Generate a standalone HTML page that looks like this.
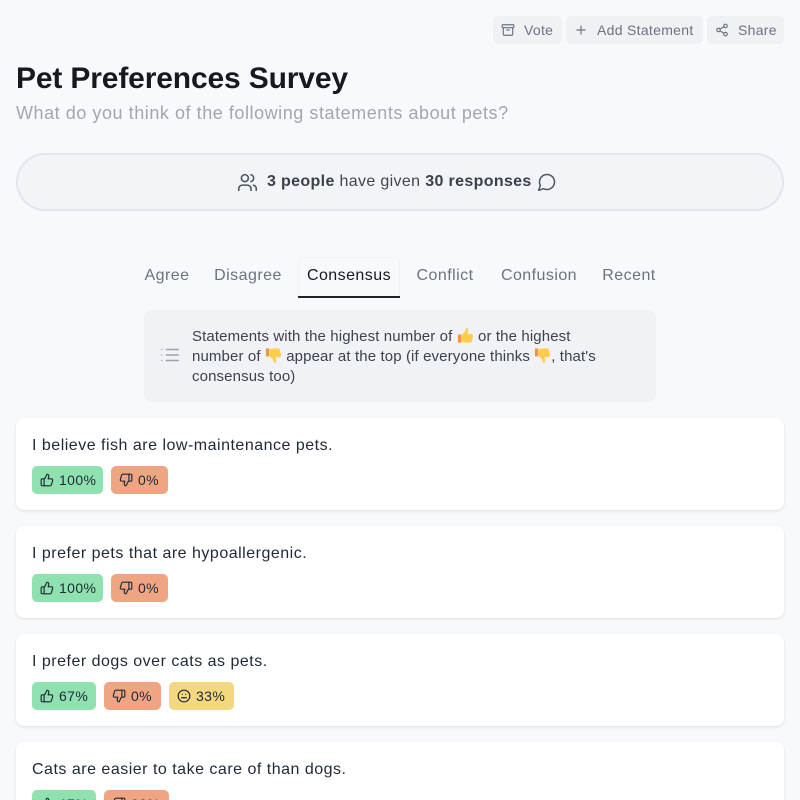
<!DOCTYPE html>
<html>
<head>
<meta charset="utf-8">
<style>
  html{margin:0;padding:0;width:800px;height:800px;overflow:hidden;background:#f8f9fc;}
  body{margin:0;padding:0;width:800px;height:800px;overflow:hidden;background:#f8f9fc;font-family:"Liberation Sans",Arial,sans-serif;position:relative;color:#1f2937;}
  .abs{position:absolute;}
  .btn{position:absolute;top:16px;height:28px;line-height:28px;background:#f0f1f4;border-radius:6px;display:flex;align-items:center;padding:0 8px;box-sizing:border-box;font-size:14px;color:#6b7280;letter-spacing:0.3px;white-space:nowrap;}
  .btn svg{width:14px;height:14px;margin-right:9px;flex:none;}
  .title{left:16px;top:61px;font-size:30px;line-height:36px;font-weight:bold;color:#16191d;letter-spacing:-0.15px;white-space:nowrap;}
  .sub{left:16px;top:101px;font-size:18px;line-height:24px;color:#a3a6ad;letter-spacing:0.55px;white-space:nowrap;}
  .pill{left:16px;top:153px;width:768px;height:58px;box-sizing:border-box;border:2px solid #e4e5ea;border-radius:29px;background:#f3f4f8;}
  .pilltxt{left:237px;top:172px;height:20px;display:flex;align-items:center;font-size:16px;line-height:20px;color:#3f4650;white-space:nowrap;letter-spacing:0.35px;}
  .pilltxt b{color:#3a414b;}
  .tab{position:absolute;top:264px;font-size:16px;line-height:24px;color:#6b7280;letter-spacing:0.45px;text-align:center;white-space:nowrap;width:120px;}
  .info{left:144px;top:310px;width:512px;height:92px;background:#f1f2f6;border-radius:9px;}
  .infotxt{left:192px;top:327px;font-size:15px;line-height:20px;color:#3b424c;letter-spacing:0.12px;white-space:nowrap;}
  .emo{display:inline-block;width:17px;height:17px;vertical-align:-3px;}
  .card{position:absolute;left:16px;width:768px;height:92px;background:#fff;border-radius:8px;box-shadow:0 1px 3px rgba(0,0,0,0.08),0 1px 2px rgba(0,0,0,0.04);}
  .stmt{position:absolute;left:16px;top:16px;font-size:16px;line-height:24px;color:#1f2937;letter-spacing:0.5px;white-space:nowrap;}
  .badges{position:absolute;left:16px;top:48px;display:flex;}
  .bd{height:28px;line-height:28px;border-radius:5px;display:flex;align-items:center;box-sizing:border-box;padding:0 0 0 8px;margin-right:8px;font-size:14px;color:#1f2937;letter-spacing:0.4px;white-space:nowrap;}
  .bd svg{width:14px;height:14px;margin-right:5px;flex:none;}
  .g{background:#8fe1b0;}
  .o{background:#f0a582;}
  .y{background:#f4d880;}
</style>
</head>
<body>

<!-- top buttons -->
<div class="btn" style="left:493px;width:69px;">
  <svg viewBox="0 0 24 24" fill="none" stroke="#6b7280" stroke-width="2" stroke-linecap="round" stroke-linejoin="round"><rect x="2" y="3" width="20" height="5" rx="1"/><path d="M4 8v11a2 2 0 0 0 2 2h12a2 2 0 0 0 2-2V8"/><path d="M10 12h4"/></svg>Vote
</div>
<div class="btn" style="left:566px;width:137px;">
  <svg viewBox="0 0 24 24" fill="none" stroke="#6b7280" stroke-width="2" stroke-linecap="round" stroke-linejoin="round"><path d="M5 12h14"/><path d="M12 5v14"/></svg>Add Statement
</div>
<div class="btn" style="left:707px;width:77px;">
  <svg viewBox="0 0 24 24" fill="none" stroke="#6b7280" stroke-width="2" stroke-linecap="round" stroke-linejoin="round"><circle cx="18" cy="5" r="3"/><circle cx="6" cy="12" r="3"/><circle cx="18" cy="19" r="3"/><line x1="8.59" y1="13.51" x2="15.42" y2="17.49"/><line x1="15.41" y1="6.51" x2="8.59" y2="10.49"/></svg>Share
</div>

<!-- title -->
<div class="abs title">Pet Preferences Survey</div>
<div class="abs sub">What do you think of the following statements about pets?</div>

<!-- stats pill -->
<div class="abs pill"></div>
<div class="abs pilltxt">
  <svg width="21" height="21" viewBox="0 0 24 24" fill="none" stroke="#4b5563" stroke-width="1.8" stroke-linecap="round" stroke-linejoin="round" style="margin-right:9px;"><path d="M16 21v-2a4 4 0 0 0-4-4H6a4 4 0 0 0-4 4v2"/><circle cx="9" cy="7" r="4"/><path d="M22 21v-2a4 4 0 0 0-3-3.87"/><path d="M16 3.13a4 4 0 0 1 0 7.75"/></svg>
  <span><b>3 people</b> have given <b>30 responses</b></span>
  <svg width="20" height="20" viewBox="0 0 24 24" fill="none" stroke="#4b5563" stroke-width="1.8" stroke-linecap="round" stroke-linejoin="round" style="margin-left:5px;"><path d="M7.9 20A9 9 0 1 0 4 16.1L2 22Z"/></svg>
</div>

<!-- tabs -->
<div class="abs" style="left:298px;top:257px;width:100px;height:39px;border:1px solid #f1f2f5;border-bottom:none;border-radius:5px 5px 0 0;"></div>
<div class="tab" style="left:107px;">Agree</div>
<div class="tab" style="left:188px;">Disagree</div>
<div class="tab" style="left:289px;color:#15181c;">Consensus</div>
<div class="tab" style="left:385px;">Conflict</div>
<div class="tab" style="left:479px;">Confusion</div>
<div class="tab" style="left:569px;">Recent</div>
<div class="abs" style="left:298px;top:296px;width:102px;height:2px;background:#1f2328;"></div>

<!-- info box -->
<div class="abs info"></div>
<svg class="abs" style="left:159px;top:344px;" width="22" height="22" viewBox="0 0 24 24" fill="none" stroke="#9ca3af" stroke-width="1.6" stroke-linecap="round" stroke-linejoin="round"><line x1="8" y1="6" x2="21" y2="6"/><line x1="8" y1="12" x2="21" y2="12"/><line x1="8" y1="18" x2="21" y2="18"/><line x1="3" y1="6" x2="3.01" y2="6"/><line x1="3" y1="12" x2="3.01" y2="12"/><line x1="3" y1="18" x2="3.01" y2="18"/></svg>
<div class="abs infotxt">
Statements with the highest number of <svg class="emo" viewBox="0 0 36 36"><path fill="#FFCC4D" d="M34 18c0-2-1.5-3.5-3.5-3.5H22c1-3 2-6 1.5-9C23 3 21 1.5 19.5 2.5 18 3.5 18.5 6 17 9c-2 4-5 6-7 7v15c3 1 6 2 11 2h7c2 0 3.5-1.5 3.5-3 0-1-.5-1.5-1-2 1.5-.3 2.5-1.5 2.5-3 0-1-.5-1.7-1-2.2 1.2-.5 2-1.5 2-2.8 0-1-.5-1.8-1.2-2.3C33.3 20.5 34 19.4 34 18z"/><path fill="#EF9645" d="M2 16h7v17H2z"/></svg> or the highest<br>
number of <svg class="emo" viewBox="0 0 36 36"><g transform="translate(0,36) scale(1,-1)"><path fill="#FFCC4D" d="M34 18c0-2-1.5-3.5-3.5-3.5H22c1-3 2-6 1.5-9C23 3 21 1.5 19.5 2.5 18 3.5 18.5 6 17 9c-2 4-5 6-7 7v15c3 1 6 2 11 2h7c2 0 3.5-1.5 3.5-3 0-1-.5-1.5-1-2 1.5-.3 2.5-1.5 2.5-3 0-1-.5-1.7-1-2.2 1.2-.5 2-1.5 2-2.8 0-1-.5-1.8-1.2-2.3C33.3 20.5 34 19.4 34 18z"/><path fill="#EF9645" d="M2 16h7v17H2z"/></g></svg> appear at the top (if everyone thinks <svg class="emo" viewBox="0 0 36 36"><g transform="translate(0,36) scale(1,-1)"><path fill="#FFCC4D" d="M34 18c0-2-1.5-3.5-3.5-3.5H22c1-3 2-6 1.5-9C23 3 21 1.5 19.5 2.5 18 3.5 18.5 6 17 9c-2 4-5 6-7 7v15c3 1 6 2 11 2h7c2 0 3.5-1.5 3.5-3 0-1-.5-1.5-1-2 1.5-.3 2.5-1.5 2.5-3 0-1-.5-1.7-1-2.2 1.2-.5 2-1.5 2-2.8 0-1-.5-1.8-1.2-2.3C33.3 20.5 34 19.4 34 18z"/><path fill="#EF9645" d="M2 16h7v17H2z"/></g></svg>, that's<br>
consensus too)
</div>

<!-- cards -->
<div class="card" style="top:418px;">
  <div class="stmt">I believe fish are low-maintenance pets.</div>
  <div class="badges">
    <div class="bd g" style="width:71px;"><svg viewBox="0 0 24 24" fill="none" stroke="#1f2937" stroke-width="2" stroke-linecap="round" stroke-linejoin="round"><path d="M7 10v12"/><path d="M15 5.88 14 10h5.83a2 2 0 0 1 1.92 2.56l-2.33 8A2 2 0 0 1 17.5 22H4a2 2 0 0 1-2-2v-8a2 2 0 0 1 2-2h2.76a2 2 0 0 0 1.79-1.11L12 2a3.13 3.13 0 0 1 3 3.88Z"/></svg>100%</div>
    <div class="bd o" style="width:57px;"><svg viewBox="0 0 24 24" fill="none" stroke="#1f2937" stroke-width="2" stroke-linecap="round" stroke-linejoin="round"><path d="M17 14V2"/><path d="M9 18.12 10 14H4.170a2 2 0 0 1-1.92-2.56l2.33-8A2 2 0 0 1 6.5 2H20a2 2 0 0 1 2 2v8a2 2 0 0 1-2 2h-2.76a2 2 0 0 0-1.79 1.11L12 22a3.13 3.13 0 0 1-3-3.88Z"/></svg>0%</div>
  </div>
</div>

<div class="card" style="top:526px;">
  <div class="stmt">I prefer pets that are hypoallergenic.</div>
  <div class="badges">
    <div class="bd g" style="width:71px;"><svg viewBox="0 0 24 24" fill="none" stroke="#1f2937" stroke-width="2" stroke-linecap="round" stroke-linejoin="round"><path d="M7 10v12"/><path d="M15 5.88 14 10h5.83a2 2 0 0 1 1.92 2.56l-2.33 8A2 2 0 0 1 17.5 22H4a2 2 0 0 1-2-2v-8a2 2 0 0 1 2-2h2.76a2 2 0 0 0 1.79-1.11L12 2a3.13 3.13 0 0 1 3 3.88Z"/></svg>100%</div>
    <div class="bd o" style="width:57px;"><svg viewBox="0 0 24 24" fill="none" stroke="#1f2937" stroke-width="2" stroke-linecap="round" stroke-linejoin="round"><path d="M17 14V2"/><path d="M9 18.12 10 14H4.17a2 2 0 0 1-1.92-2.56l2.33-8A2 2 0 0 1 6.5 2H20a2 2 0 0 1 2 2v8a2 2 0 0 1-2 2h-2.76a2 2 0 0 0-1.79 1.11L12 22a3.13 3.13 0 0 1-3-3.88Z"/></svg>0%</div>
  </div>
</div>

<div class="card" style="top:634px;">
  <div class="stmt">I prefer dogs over cats as pets.</div>
  <div class="badges">
    <div class="bd g" style="width:64px;"><svg viewBox="0 0 24 24" fill="none" stroke="#1f2937" stroke-width="2" stroke-linecap="round" stroke-linejoin="round"><path d="M7 10v12"/><path d="M15 5.88 14 10h5.83a2 2 0 0 1 1.92 2.56l-2.33 8A2 2 0 0 1 17.5 22H4a2 2 0 0 1-2-2v-8a2 2 0 0 1 2-2h2.76a2 2 0 0 0 1.79-1.11L12 2a3.13 3.13 0 0 1 3 3.88Z"/></svg>67%</div>
    <div class="bd o" style="width:57px;"><svg viewBox="0 0 24 24" fill="none" stroke="#1f2937" stroke-width="2" stroke-linecap="round" stroke-linejoin="round"><path d="M17 14V2"/><path d="M9 18.12 10 14H4.17a2 2 0 0 1-1.92-2.56l2.33-8A2 2 0 0 1 6.5 2H20a2 2 0 0 1 2 2v8a2 2 0 0 1-2 2h-2.76a2 2 0 0 0-1.79 1.11L12 22a3.13 3.13 0 0 1-3-3.88Z"/></svg>0%</div>
    <div class="bd y" style="width:65px;"><svg viewBox="0 0 24 24" fill="none" stroke="#1f2937" stroke-width="2" stroke-linecap="round" stroke-linejoin="round"><circle cx="12" cy="12" r="10"/><line x1="8" y1="15" x2="16" y2="15"/><line x1="9" y1="9" x2="9.01" y2="9"/><line x1="15" y1="9" x2="15.01" y2="9"/></svg>33%</div>
  </div>
</div>

<div class="card" style="top:742px;">
  <div class="stmt">Cats are easier to take care of than dogs.</div>
  <div class="badges">
    <div class="bd g" style="width:64px;"><svg viewBox="0 0 24 24" fill="none" stroke="#1f2937" stroke-width="2" stroke-linecap="round" stroke-linejoin="round"><path d="M7 10v12"/><path d="M15 5.88 14 10h5.83a2 2 0 0 1 1.92 2.56l-2.33 8A2 2 0 0 1 17.5 22H4a2 2 0 0 1-2-2v-8a2 2 0 0 1 2-2h2.76a2 2 0 0 0 1.79-1.11L12 2a3.13 3.13 0 0 1 3 3.88Z"/></svg>67%</div>
    <div class="bd o" style="width:65px;"><svg viewBox="0 0 24 24" fill="none" stroke="#1f2937" stroke-width="2" stroke-linecap="round" stroke-linejoin="round"><path d="M17 14V2"/><path d="M9 18.12 10 14H4.17a2 2 0 0 1-1.92-2.56l2.33-8A2 2 0 0 1 6.5 2H20a2 2 0 0 1 2 2v8a2 2 0 0 1-2 2h-2.76a2 2 0 0 0-1.79 1.11L12 22a3.13 3.13 0 0 1-3-3.88Z"/></svg>33%</div>
  </div>
</div>

</body>
</html>
